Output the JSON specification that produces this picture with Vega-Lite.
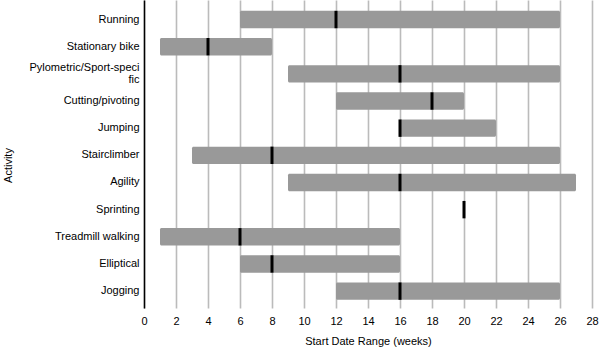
{
  "$schema": "https://vega.github.io/schema/vega-lite/v6.json",
  "width": 448,
  "height": 308,
  "autosize": {"type": "none"},
  "padding": {"left": 144, "top": 0, "right": 8, "bottom": 41},
  "background": "white",
  "config": {
    "view": {"stroke": null},
    "font": "Liberation Sans",
    "axis": {"labelFont": "Liberation Sans", "titleFont": "Liberation Sans", "labelColor": "#000", "titleColor": "#000", "labelFontSize": 11, "titleFontSize": 11, "titleFontWeight": "normal"},
    "axisX": {
      "values": [0, 2, 4, 6, 8, 10, 12, 14, 16, 18, 20, 22, 24, 26, 28],
      "labelOverlap": false,
      "domain": false,
      "ticks": false,
      "grid": true,
      "gridColor": "#bbbbbb",
      "gridWidth": 1.6,
      "labelPadding": 7,
      "labelFlush": false,
      "titlePadding": 9
    }
  },
  "data": {
    "values": [
      {"activity": "Running", "start": 6, "end": 26, "median": 12},
      {"activity": "Stationary bike", "start": 1, "end": 8, "median": 4},
      {"activity": "Pylometric/Sport-specific", "start": 9, "end": 26, "median": 16},
      {"activity": "Cutting/pivoting", "start": 12, "end": 20, "median": 18},
      {"activity": "Jumping", "start": 16, "end": 22, "median": 16},
      {"activity": "Stairclimber", "start": 3, "end": 26, "median": 8},
      {"activity": "Agility", "start": 9, "end": 27, "median": 16},
      {"activity": "Sprinting", "start": 20, "end": 20, "median": 20},
      {"activity": "Treadmill walking", "start": 1, "end": 16, "median": 6},
      {"activity": "Elliptical", "start": 6, "end": 16, "median": 8},
      {"activity": "Jogging", "start": 12, "end": 26, "median": 16}
    ]
  },
  "encoding": {
    "y": {
      "field": "activity",
      "type": "nominal",
      "sort": null,
      "scale": {"paddingInner": 0.36, "paddingOuter": 0.35, "align": 0.57},
      "axis": {
        "title": "Activity",
        "domain": true,
        "domainColor": "#000",
        "domainWidth": 1.5,
        "ticks": false,
        "grid": false,
        "labelPadding": 5,
        "labelLineHeight": 12,
        "labelExpr": "datum.value == 'Pylometric/Sport-specific' ? ['Pylometric/Sport-speci', 'fic'] : datum.value",
        "labelOffset": {"condition": {"test": "datum.value == 'Pylometric/Sport-specific'", "value": -6}, "value": 0},
        "titleAngle": -90,
        "titleX": -136,
        "titleY": 165,
        "titleAlign": "center",
        "titleBaseline": "middle"
      }
    }
  },
  "layer": [
    {
      "mark": {"type": "bar", "color": "#999999", "cornerRadius": 1.5},
      "encoding": {
        "x": {
          "field": "start",
          "type": "quantitative",
          "scale": {"domain": [0, 28], "nice": false},
          "title": "Start Date Range (weeks)"
        },
        "x2": {"field": "end"}
      }
    },
    {
      "mark": {"type": "tick", "color": "#000", "thickness": 3, "size": 17.4, "opacity": 1},
      "encoding": {
        "x": {"field": "median", "type": "quantitative", "title": "Start Date Range (weeks)"}
      }
    }
  ]
}
